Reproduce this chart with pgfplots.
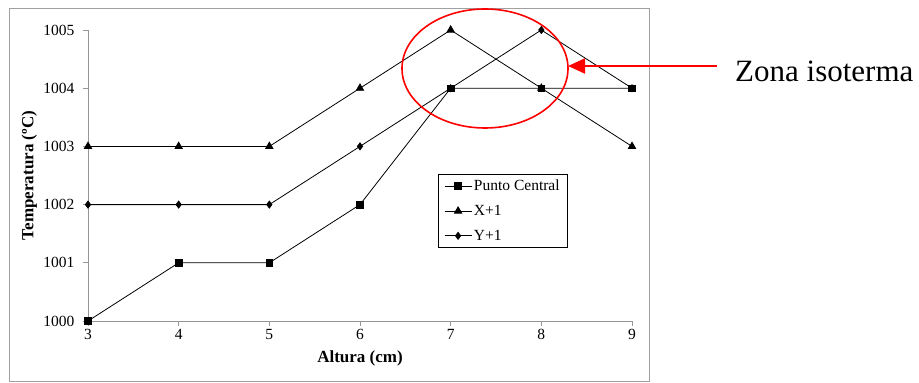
\documentclass[border=0pt]{standalone}
\usepackage{fontspec}
\setmainfont{Liberation Serif}
\usepackage{pgfplots}
\pgfplotsset{compat=1.18}
\usetikzlibrary{arrows.meta}
\definecolor{axgray}{RGB}{150,150,150}
\definecolor{framegray}{RGB}{160,160,160}

\begin{document}
\begin{tikzpicture}
\useasboundingbox (0pt,0pt) rectangle (919pt,383pt);
% chart frame
\draw[framegray, line width=0.9pt] (9.5pt,2pt) rectangle (649pt,375pt);
\begin{axis}[
  at={(88pt,62pt)}, anchor=south west,
  scale only axis, width=544pt, height=291pt,
  xmin=3, xmax=9, ymin=1000, ymax=1005,
  axis lines*=left,
  axis line style={axgray, line width=0.8pt},
  xtick={3,4,5,6,7,8,9},
  ytick={1000,1001,1002,1003,1004,1005},
  tick align=outside, major tick length=5pt,
  tick style={axgray, line width=0.8pt},
  /pgf/number format/assume math mode=true,
  /pgf/number format/1000 sep={},
  ticklabel style={font=\fontsize{15.5}{15.5}\selectfont},
  yticklabel style={xshift=-5pt},
  xlabel={\textbf{Altura (cm)}},
  ylabel={\textbf{Temperatura (ºC)}},
  label style={font=\fontsize{17}{17}\selectfont},
  xlabel style={at={(axis description cs:0.5,-0.141)}, anchor=base},
  ylabel style={at={(axis description cs:-0.108,0.5)}, anchor=center},
  legend style={at={(axis description cs:0.643,0.505)}, anchor=north west,
    draw=black, line width=0.8pt, font=\fontsize{15.5}{15.5}\selectfont,
    inner xsep=6pt, inner ysep=3.5pt, row sep=9pt,
    nodes={inner sep=2pt}},
  legend cell align=left,
  reverse legend,
  legend image code/.code={%
    \draw[mark repeat=2,mark phase=2] plot coordinates {(0pt,0pt) (13.5pt,0pt) (27pt,0pt)};},
  every axis plot/.append style={black, line width=0.8pt, mark options={solid}},
]
\addplot[mark=diamond*, mark size=3.5pt] coordinates {
  (3,1002) (4,1002) (5,1002) (6,1003) (7,1004) (8,1005) (9,1004)};
\addlegendentry{Y+1}
\addplot[mark=triangle*, mark size=4.2pt] coordinates {
  (3,1003) (4,1003) (5,1003) (6,1004) (7,1005) (8,1004) (9,1003)};
\addlegendentry{X+1}
\addplot[mark=square*, mark size=3.3pt] coordinates {
  (3,1000) (4,1001) (5,1001) (6,1002) (7,1004) (8,1004) (9,1004)};
\addlegendentry{Punto Central}
\end{axis}
% isothermal region marker
\draw[red, line width=1.6pt] (485pt,314.5pt) ellipse [x radius=83pt, y radius=59.5pt];
\draw[red, line width=2pt, -{Triangle[length=17pt,width=15pt]}] (717pt,317pt) -- (568pt,317pt);
\node[anchor=base west, inner sep=0pt, font=\fontsize{31}{31}\selectfont] at (735pt,301pt) {Zona isoterma};
\end{tikzpicture}
\end{document}
